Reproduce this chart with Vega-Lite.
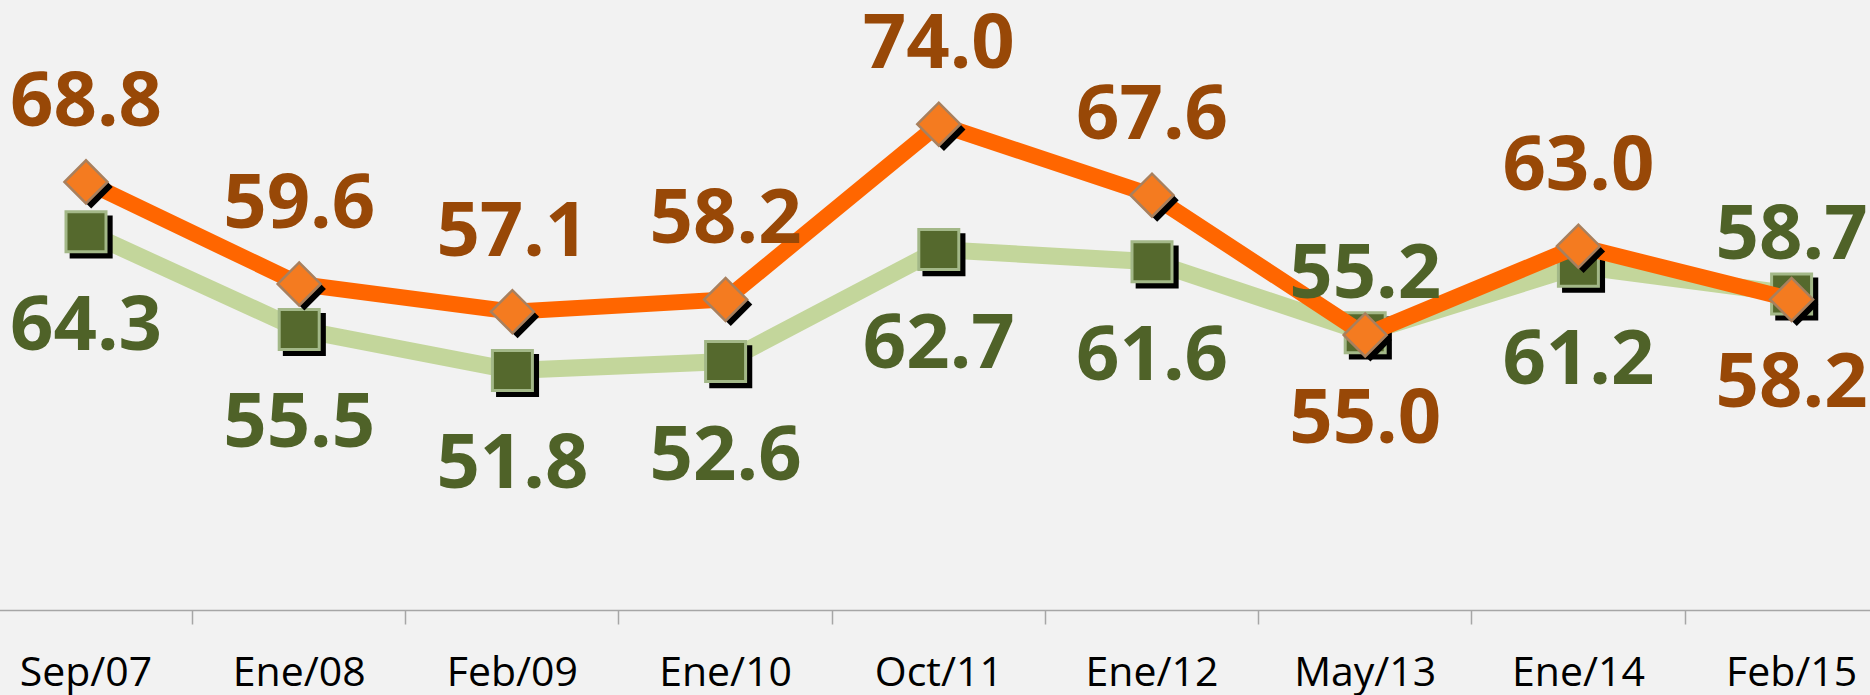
{
  "$schema": "https://vega.github.io/schema/vega-lite/v6.json",
  "width": 1870,
  "height": 610,
  "autosize": {"type": "none"},
  "padding": {"left": 0, "top": 0, "right": 0, "bottom": 85},
  "background": "#f2f2f2",
  "config": {"view": {"stroke": null}},
  "data": {
    "values": [
      {"fecha": "Sep/07", "verde": 64.3, "naranja": 68.8},
      {"fecha": "Ene/08", "verde": 55.5, "naranja": 59.6},
      {"fecha": "Feb/09", "verde": 51.8, "naranja": 57.1},
      {"fecha": "Ene/10", "verde": 52.6, "naranja": 58.2},
      {"fecha": "Oct/11", "verde": 62.7, "naranja": 74.0},
      {"fecha": "Ene/12", "verde": 61.6, "naranja": 67.6},
      {"fecha": "May/13", "verde": 55.2, "naranja": 55.0},
      {"fecha": "Ene/14", "verde": 61.2, "naranja": 63.0},
      {"fecha": "Feb/15", "verde": 58.7, "naranja": 58.2}
    ]
  },
  "encoding": {
    "x": {
      "field": "fecha",
      "type": "ordinal",
      "sort": null,
      "scale": {"type": "band", "range": [-20.6, 1898.2], "paddingInner": 0, "paddingOuter": 0},
      "axis": {
        "title": null,
        "bandPosition": 0,
        "labelAngle": 0,
        "domainColor": "#a6a6a6",
        "domainWidth": 1.5,
        "tickColor": "#a6a6a6",
        "tickWidth": 1.5,
        "tickSize": 14,
        "labelFont": "Open Sans",
        "labelFontSize": 41,
        "labelColor": "#000000",
        "labelBaseline": "alphabetic",
        "labelPadding": 61,
        "labelBound": false,
        "labelOverlap": false,
        "labelFlush": false
      }
    }
  },
  "layer": [
    {
      "mark": {"type": "line", "color": "#c3d69b", "strokeWidth": 17},
      "encoding": {
        "y": {"field": "verde", "type": "quantitative", "scale": {"domain": [30.2, 85.2], "nice": false, "zero": false}, "axis": null}
      }
    },
    {
      "mark": {"type": "point", "filled": true, "color": "#000000", "opacity": 1, "size": 1849, "shape": "M -0.76 -0.76 L 1.24 -0.76 L 1.24 1.24 L -0.76 1.24 Z"},
      "encoding": {"y": {"field": "verde", "type": "quantitative"}}
    },
    {
      "mark": {"type": "point", "filled": true, "fill": "#55692d", "stroke": "#a3b888", "strokeWidth": 3, "opacity": 1, "size": 1600, "shape": "square"},
      "encoding": {"y": {"field": "verde", "type": "quantitative"}}
    },
    {
      "mark": {"type": "line", "color": "#ff6600", "strokeWidth": 16},
      "encoding": {"y": {"field": "naranja", "type": "quantitative"}}
    },
    {
      "mark": {"type": "point", "filled": true, "color": "#000000", "opacity": 1, "size": 1849, "shape": "M -0.76 0.24 L 0.24 -0.76 L 1.24 0.24 L 0.24 1.24 Z"},
      "encoding": {"y": {"field": "naranja", "type": "quantitative"}}
    },
    {
      "mark": {"type": "point", "filled": true, "fill": "#f47b20", "stroke": "#a8805e", "strokeWidth": 2.5, "opacity": 1, "size": 1849, "shape": "diamond"},
      "encoding": {"y": {"field": "naranja", "type": "quantitative"}}
    },
    {
      "transform": [{"filter": "datum.naranja >= datum.verde"}],
      "mark": {"type": "text", "font": "Open Sans", "fontWeight": "bold", "fontSize": 76, "color": "#984807", "baseline": "middle", "dy": -79},
      "encoding": {"y": {"field": "naranja", "type": "quantitative"}, "text": {"field": "naranja", "type": "quantitative", "format": ".1f"}}
    },
    {
      "transform": [{"filter": "datum.naranja < datum.verde"}],
      "mark": {"type": "text", "font": "Open Sans", "fontWeight": "bold", "fontSize": 76, "color": "#984807", "baseline": "middle", "dy": 85},
      "encoding": {"y": {"field": "naranja", "type": "quantitative"}, "text": {"field": "naranja", "type": "quantitative", "format": ".1f"}}
    },
    {
      "transform": [{"filter": "datum.naranja >= datum.verde"}],
      "mark": {"type": "text", "font": "Open Sans", "fontWeight": "bold", "fontSize": 76, "color": "#4f6228", "baseline": "middle", "dy": 95},
      "encoding": {"y": {"field": "verde", "type": "quantitative"}, "text": {"field": "verde", "type": "quantitative", "format": ".1f"}}
    },
    {
      "transform": [{"filter": "datum.naranja < datum.verde"}],
      "mark": {"type": "text", "font": "Open Sans", "fontWeight": "bold", "fontSize": 76, "color": "#4f6228", "baseline": "middle", "dy": -58},
      "encoding": {"y": {"field": "verde", "type": "quantitative"}, "text": {"field": "verde", "type": "quantitative", "format": ".1f"}}
    }
  ]
}
